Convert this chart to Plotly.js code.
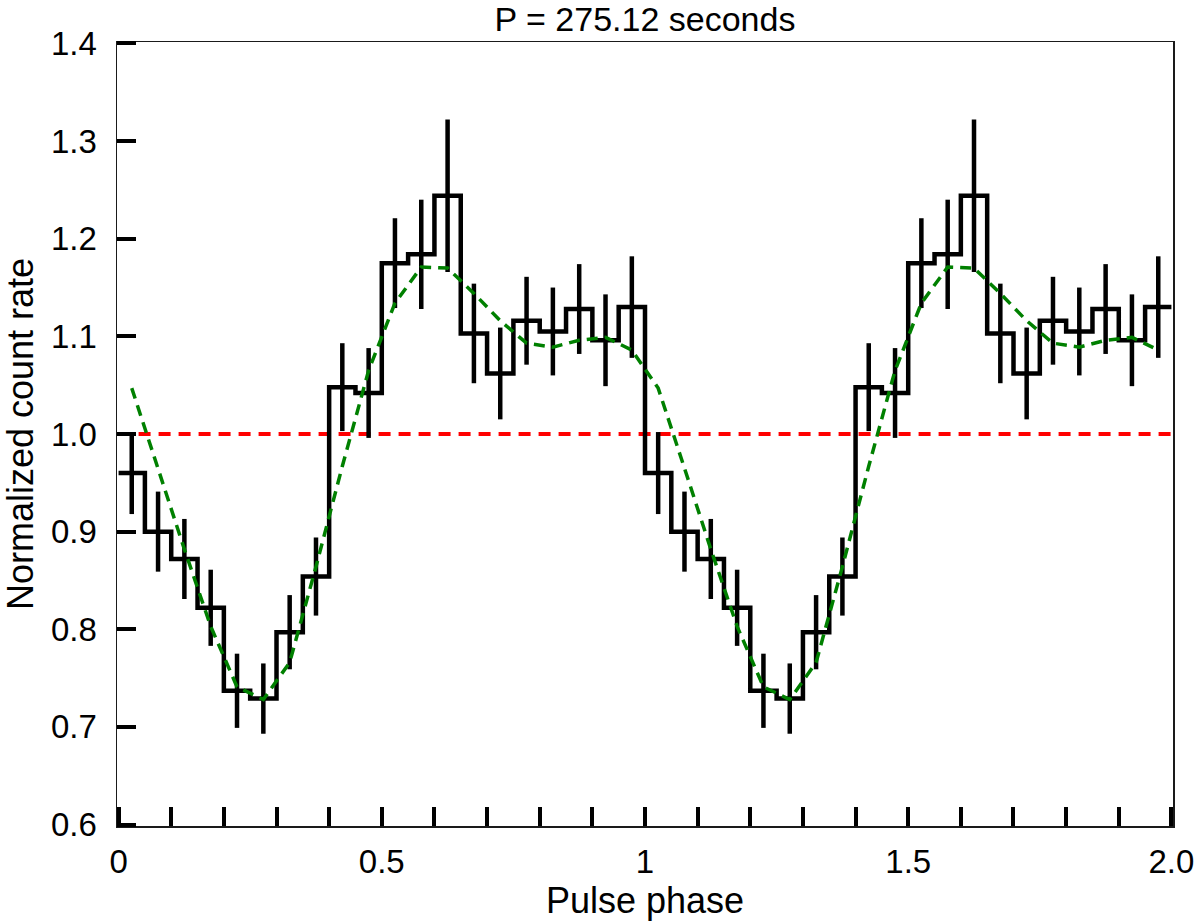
<!DOCTYPE html>
<html>
<head>
<meta charset="utf-8">
<script src="https://cdn.plot.ly/plotly-3.0.1.min.js"></script>
<style>
  html, body { margin: 0; padding: 0; background: #fff; }
  #chart { width: 1200px; height: 923px; }
</style>
</head>
<body>
<div id="chart"></div>
<script>
// ---- data ----
const phase = [0.025, 0.075, 0.125, 0.175, 0.225, 0.275, 0.325, 0.375, 0.425, 0.475,
               0.525, 0.575, 0.625, 0.675, 0.725, 0.775, 0.825, 0.875, 0.925, 0.975,
               1.025, 1.075, 1.125, 1.175, 1.225, 1.275, 1.325, 1.375, 1.425, 1.475,
               1.525, 1.575, 1.625, 1.675, 1.725, 1.775, 1.825, 1.875, 1.925, 1.975];

const rate = [0.960, 0.900, 0.872, 0.822, 0.737, 0.729, 0.797, 0.854, 1.048, 1.042,
              1.175, 1.184, 1.244, 1.103, 1.062, 1.116, 1.105, 1.128, 1.096, 1.130,
              0.960, 0.900, 0.872, 0.822, 0.737, 0.729, 0.797, 0.854, 1.048, 1.042,
              1.175, 1.184, 1.244, 1.103, 1.062, 1.116, 1.105, 1.128, 1.096, 1.130];

const rateErr = [0.042, 0.041, 0.041, 0.039, 0.038, 0.036, 0.038, 0.040, 0.045, 0.046,
                 0.046, 0.056, 0.078, 0.051, 0.047, 0.045, 0.045, 0.046, 0.047, 0.052,
                 0.042, 0.041, 0.041, 0.039, 0.038, 0.036, 0.038, 0.040, 0.045, 0.046,
                 0.046, 0.056, 0.078, 0.051, 0.047, 0.045, 0.045, 0.046, 0.047, 0.052];

const model = [1.047, 0.965, 0.882, 0.803, 0.741, 0.728, 0.766, 0.864, 0.967, 1.065,
               1.134, 1.171, 1.170, 1.144, 1.116, 1.093, 1.089, 1.096, 1.099, 1.086,
               1.047, 0.965, 0.882, 0.803, 0.741, 0.728, 0.766, 0.864, 0.967, 1.065,
               1.134, 1.171, 1.170, 1.144, 1.116, 1.093, 1.089, 1.096, 1.099, 1.086];

const refLevel = 1.0;
const xRange = [-0.003, 2.003];
const yRange = [0.5985, 1.4015];

const xTickVals = [0, 0.1, 0.2, 0.3, 0.4, 0.5, 0.6, 0.7, 0.8, 0.9, 1.0,
                   1.1, 1.2, 1.3, 1.4, 1.5, 1.6, 1.7, 1.8, 1.9, 2.0];
const xTickText = ['0', '', '', '', '', '0.5', '', '', '', '', '1',
                   '', '', '', '', '1.5', '', '', '', '', '2.0'];
const yTickVals = [0.6, 0.7, 0.8, 0.9, 1.0, 1.1, 1.2, 1.3, 1.4];
const yTickText = ['0.6', '0.7', '0.8', '0.9', '1.0', '1.1', '1.2', '1.3', '1.4'];

const titleText = 'P = 275.12 seconds';
const xTitle = 'Pulse phase';
const yTitle = 'Normalized count rate';

// ---- traces ----
const FONT = '"Liberation Sans", Arial, Helvetica, sans-serif';

const firstEdge = 0, lastEdge = 2;
const stepX = [firstEdge].concat(phase, [lastEdge]);
const stepY = [rate[0]].concat(rate, [rate[rate.length - 1]]);

const traces = [
  {
    x: [firstEdge, lastEdge], y: [refLevel, refLevel],
    mode: 'lines', type: 'scatter', hoverinfo: 'skip',
    line: { color: '#ff0000', width: 4, dash: '12px,8px' }
  },
  {
    x: stepX, y: stepY,
    mode: 'lines', type: 'scatter', hoverinfo: 'skip',
    line: { color: '#000000', width: 4.5, shape: 'hvh' }
  },
  {
    x: phase, y: rate,
    mode: 'markers', type: 'scatter', hoverinfo: 'skip',
    marker: { size: 1, color: '#000000' },
    error_y: { type: 'data', array: rateErr, visible: true, thickness: 4.5, width: 0, color: '#000000' }
  },
  {
    x: phase, y: model, xaxis: 'x', yaxis: 'y2',
    mode: 'lines', type: 'scatter', hoverinfo: 'skip',
    line: { color: '#008000', width: 3.5, dash: '11px,7px' }
  }
];

const layout = {
  width: 1200, height: 923,
  margin: { l: 117, r: 27, t: 42, b: 97 },
  paper_bgcolor: '#ffffff', plot_bgcolor: '#ffffff',
  showlegend: false,
  font: { family: FONT, color: '#000000', size: 33 },
  title: {
    text: titleText,
    font: { family: FONT, size: 34, color: '#000000' },
    x: 0.5, xref: 'paper', xanchor: 'center',
    y: 0.9789, yref: 'container', yanchor: 'middle'
  },
  xaxis: {
    range: xRange, autorange: false,
    tickmode: 'array', tickvals: xTickVals, ticktext: xTickText,
    ticks: 'inside', ticklen: 19, tickwidth: 4, tickcolor: '#000000',
    showline: true, linecolor: '#1a1a1a', linewidth: 1.5, mirror: true,
    showgrid: false, zeroline: false,
    tickfont: { family: FONT, size: 33, color: '#000000' },
    ticklabelstandoff: 6,
    title: { text: xTitle, font: { family: FONT, size: 36, color: '#000000' }, standoff: 8 }
  },
  // labels + title
  yaxis: {
    range: yRange, autorange: false,
    tickmode: 'array', tickvals: yTickVals, ticktext: yTickText,
    ticks: '',
    showline: true, linecolor: '#1a1a1a', linewidth: 1.5, mirror: true,
    showgrid: false, zeroline: false,
    tickfont: { family: FONT, size: 33, color: '#000000' },
    ticklabelstandoff: 12,
    title: { text: yTitle, font: { family: FONT, size: 36, color: '#000000' }, standoff: 8 }
  },
  // inside tick marks
  yaxis2: {
    overlaying: 'y', side: 'left', anchor: 'x',
    range: yRange, autorange: false,
    tickmode: 'array', tickvals: yTickVals,
    ticks: 'inside', ticklen: 19, tickwidth: 4, tickcolor: '#000000',
    showticklabels: false, showline: false,
    showgrid: false, zeroline: false
  }
};

Plotly.newPlot('chart', traces, layout, { staticPlot: true, displayModeBar: false });
</script>
</body>
</html>
